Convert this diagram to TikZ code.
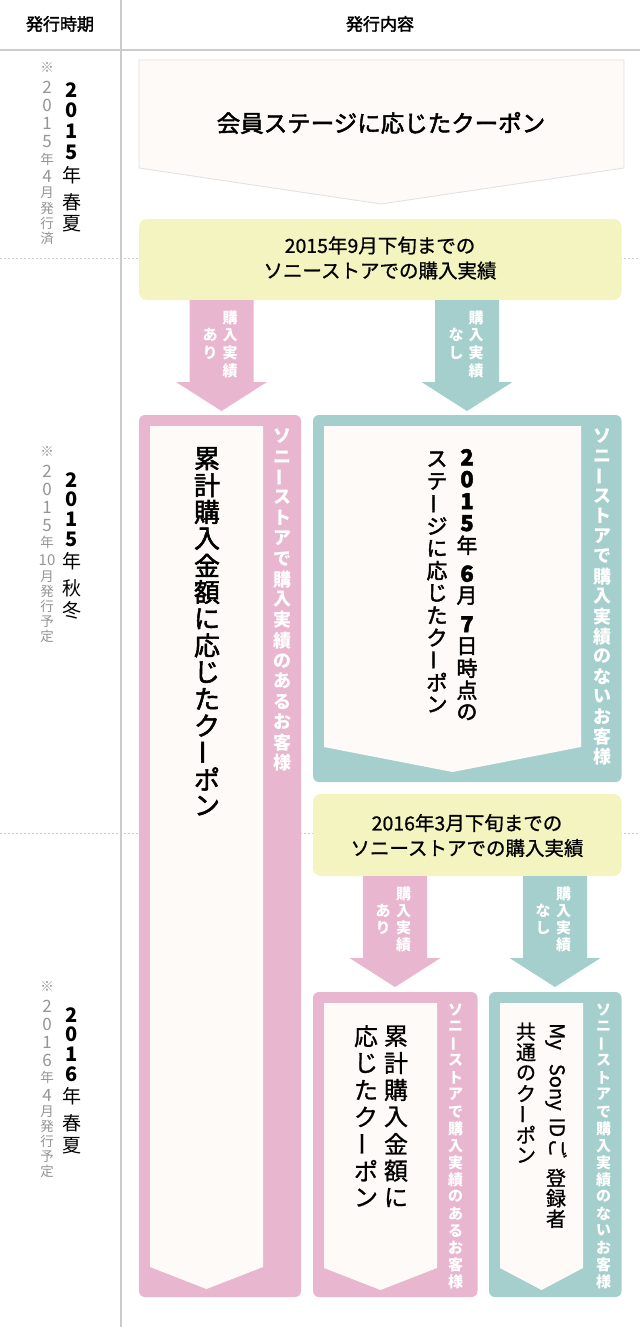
\documentclass[tikz,border=0pt]{standalone}
\usepackage{fontspec}
\usepackage{graphicx}
\setmainfont{Noto Sans CJK JP}
\newfontfamily\fmed[FakeBold=0.9]{Noto Sans CJK JP}
\newfontfamily\fsemi[FakeBold=2]{Noto Sans CJK JP}
\definecolor{pinkc}{HTML}{E9B6CF}
\definecolor{tealc}{HTML}{A4CFCD}
\definecolor{yellc}{HTML}{F4F4C1}
\definecolor{offw}{HTML}{FDFAF7}
\definecolor{linec}{HTML}{CCCCCC}
\definecolor{grayt}{HTML}{959595}
\makeatletter
\def\vc@end{\vc@end@}
\newcommand\vc@cell[1]{\vbox to \vc@p{\vss\hbox to 0pt{\hss#1\hss}\vss}}
\def\vc@aux#1{\ifx\vc@end#1\else\vc@cell{#1}\expandafter\vc@aux\fi}
\newcommand\vcr[2]{\def\vc@p{#1}\vc@aux#2\vc@end}
\makeatother
\newcommand\vcol[2]{\vbox{\offinterlineskip\vcr{#1}{#2}}}
\newcommand\vstack[1]{\vbox{\offinterlineskip#1}}
\newcommand\vbar{\rotatebox[origin=c]{90}{\raisebox{-0.38em}{ー}}}
\newcommand\fsz[2]{\fontsize{#1}{#2}\selectfont}
\tikzset{
  hdr/.style={inner sep=0pt, font=\fsz{17}{17}\fsemi},
  ytext/.style={inner sep=0pt, align=center, font=\fsz{19.5}{25}\fmed},
  albl/.style={inner sep=0pt, anchor=center, text=white, font=\fsz{15}{15}\bfseries},
  band/.style={inner sep=0pt, anchor=north, text=white, font=\fsz{18}{18}\bfseries},
  sband/.style={inner sep=0pt, anchor=north, text=white, font=\fsz{15}{15}\bfseries},
  vtop/.style={inner sep=0pt, anchor=north},
  graycol/.style={inner sep=0pt, anchor=north, text=grayt, font=\fsz{13.5}{13.5}},
  blackcol/.style={inner sep=0pt, anchor=north, font=\fsz{19}{19}},
}
\begin{document}
\begin{tikzpicture}[x=1pt,y=-1pt]
\fill[white] (0,0) rectangle (640,1327);
\useasboundingbox (0,0) rectangle (640,1327);
% grid lines
\draw[linec, line width=0.6pt, dash pattern=on 2pt off 2pt] (0,258) -- (640,258);
\draw[linec, line width=0.6pt, dash pattern=on 2pt off 2pt] (0,833) -- (640,833);
\draw[linec, line width=1.3pt] (121,0) -- (121,1327);
\draw[linec, line width=2pt] (0,50) -- (640,50);
% header
\node[hdr] (h1) at (60,24) {発行時期};
\node[hdr] (h2) at (380,24) {発行内容};
% left column
\node[graycol] (g1) at (47,56.5) {\vstack{\vcr{22pt}{※}{\fsz{17}{17}\vcr{18pt}{2015}}\vcr{17pt}{年}{\fsz{17}{17}\vcr{18pt}{4}}\vcr{15pt}{月発行済}}};
\node[blackcol] (k1) at (71.5,79) {\vstack{{\fsz{20}{20}\bfseries\vcr{21pt}{2015}}\vcr{24pt}{年}\vskip4pt\vcr{22pt}{春夏}}};
\node[graycol] (g2) at (47,440) {\vstack{\vcr{22pt}{※}{\fsz{17}{17}\vcr{18pt}{2015}}\vcr{17pt}{年}\vcr{18pt}{{\fsz{15}{15}10}}\vcr{15pt}{月発行予定}}};
\node[blackcol] (k2) at (71.5,469.5) {\vstack{{\fsz{20}{20}\bfseries\vcr{20pt}{2015}}\vcr{24pt}{年}\vskip4pt\vcr{22pt}{秋冬}}};
\node[graycol] (g3) at (47,975) {\vstack{\vcr{22pt}{※}{\fsz{17}{17}\vcr{18pt}{2016}}\vcr{17pt}{年}{\fsz{17}{17}\vcr{18pt}{4}}\vcr{15pt}{月発行予定}}};
\node[blackcol] (k3) at (71.5,1004.5) {\vstack{{\fsz{20}{20}\bfseries\vcr{20pt}{2016}}\vcr{24pt}{年}\vskip4pt\vcr{22pt}{春夏}}};
% top box
\filldraw[fill=offw, draw=black!12, line width=0.8pt] (139,60) -- (624,60) -- (624,168) -- (381,204) -- (139,168) -- cycle;
\node[inner sep=0pt, font=\fsz{23.5}{23.5}\fsemi] (c0) at (381,123) {会員ステージに応じたクーポン};
% yellow 1
\fill[yellc, rounded corners=8pt] (139,219) rectangle (621.5,300);
\node[ytext] (y1) at (380,258) {2015年9月下旬までの\\ソニーストアでの購入実績};
% arrows 1
\fill[pinkc] (189.5,300) -- (253.5,300) -- (253.5,382) -- (267,382) -- (221.5,411) -- (176,382) -- (189.5,382) -- cycle;
\node[albl] (a1r) at (230,344) {\vcol{17.7pt}{購入実績}};
\node[albl] (a1l) at (210,344) {\vcol{17.7pt}{あり}};
\fill[tealc] (435,300) -- (499,300) -- (499,382) -- (512.5,382) -- (467,411) -- (421.5,382) -- (435,382) -- cycle;
\node[albl] (b1r) at (476,344) {\vcol{17.7pt}{購入実績}};
\node[albl] (b1l) at (456,344) {\vcol{17.7pt}{なし}};
% big pink box
\fill[pinkc, rounded corners=6pt] (139,415) rectangle (301,1297);
\fill[offw] (150,426) -- (263,426) -- (263,1267) -- (206.5,1289) -- (150,1267) -- cycle;
\node[band] (p1b) at (282,426) {\vcol{20.4pt}{ソニ{\vbar}ストアで購入実績のあるお客様}};
\node[vtop, font=\fsz{26}{26}\fsemi] (p1t) at (207,445) {\vcol{26.7pt}{累計購入金額に応じたク{\vbar}ポン}};
% teal box 1
\fill[tealc, rounded corners=6pt] (313,415) rectangle (621.5,782);
\fill[offw] (324,426) -- (581,426) -- (581,747) -- (452.5,772) -- (324,747) -- cycle;
\node[band] (t1b) at (602,426) {\vcol{20pt}{ソニ{\vbar}ストアで購入実績のないお客様}};
\node[vtop, font=\fsz{21}{21}\fsemi] (t1r) at (467,446) {\vstack{{\fsz{22}{22}\bfseries\vcr{22pt}{2015}}\vcr{22pt}{年}\vskip6.5pt{\fsz{22}{22}\bfseries\vcr{22pt}{6}}\vcr{22pt}{月}\vskip6.5pt{\fsz{22}{22}\bfseries\vcr{22pt}{7}}\vcr{22pt}{日時点の}}};
\node[vtop, font=\fsz{21}{21}\fsemi] (t1l) at (437,447.8) {\vcol{22.3pt}{ステ{\vbar}ジに応じたク{\vbar}ポン}};
% yellow 2
\fill[yellc, rounded corners=8pt] (313,794) rectangle (621.5,876);
\node[ytext] (y2) at (467,835.5) {2016年3月下旬までの\\ソニーストアでの購入実績};
% arrows 2
\fill[pinkc] (363,876) -- (427,876) -- (427,958) -- (440.5,958) -- (395,987) -- (349.5,958) -- (363,958) -- cycle;
\node[albl] (a2r) at (403.5,919.5) {\vcol{17pt}{購入実績}};
\node[albl] (a2l) at (383,919.5) {\vcol{17pt}{あり}};
\fill[tealc] (523,876) -- (587,876) -- (587,958) -- (600.5,958) -- (555,987) -- (509.5,958) -- (523,958) -- cycle;
\node[albl] (b2r) at (563.5,919.5) {\vcol{17pt}{購入実績}};
\node[albl] (b2l) at (543,919.5) {\vcol{17pt}{なし}};
% small pink box
\fill[pinkc, rounded corners=6pt] (313,992) rectangle (477.5,1297);
\fill[offw] (324,1003) -- (437,1003) -- (437,1268) -- (380.5,1290) -- (324,1268) -- cycle;
\node[sband] (p2b) at (455.5,1001) {\vcol{17pt}{ソニ{\vbar}ストアで購入実績のあるお客様}};
\node[vtop, font=\fsz{24}{24}\fmed] (p2r) at (396,1022.5) {\vcol{26.9pt}{累計購入金額に}};
\node[vtop, font=\fsz{24}{24}\fmed] (p2l) at (366,1022.5) {\vcol{26.9pt}{応じたク{\vbar}ポン}};
% small teal box
\fill[tealc, rounded corners=6pt] (489,992) rectangle (621.5,1297);
\fill[offw] (500,1003) -- (583,1003) -- (583,1268) -- (541.5,1290) -- (500,1268) -- cycle;
\node[sband] (t2b) at (603.5,1001) {\vcol{17pt}{ソニ{\vbar}ストアで購入実績のないお客様}};
\node[vtop, font=\fsz{20}{20}\fmed] (t2r1) at (556,1023) {\rotatebox{-90}{My\hspace{0.7em}Sony\hspace{0.35em}ID\hspace{0.05em}ご}};
\node[vtop, font=\fsz{20}{20}\fmed] (t2r2) at (556,1167.3) {\vcol{20.5pt}{登録者}};
\node[vtop, font=\fsz{20}{20}\fmed] (t2l) at (526,1021.2) {\vcol{20.6pt}{共通のク{\vbar}ポン}};
\end{tikzpicture}
\end{document}
